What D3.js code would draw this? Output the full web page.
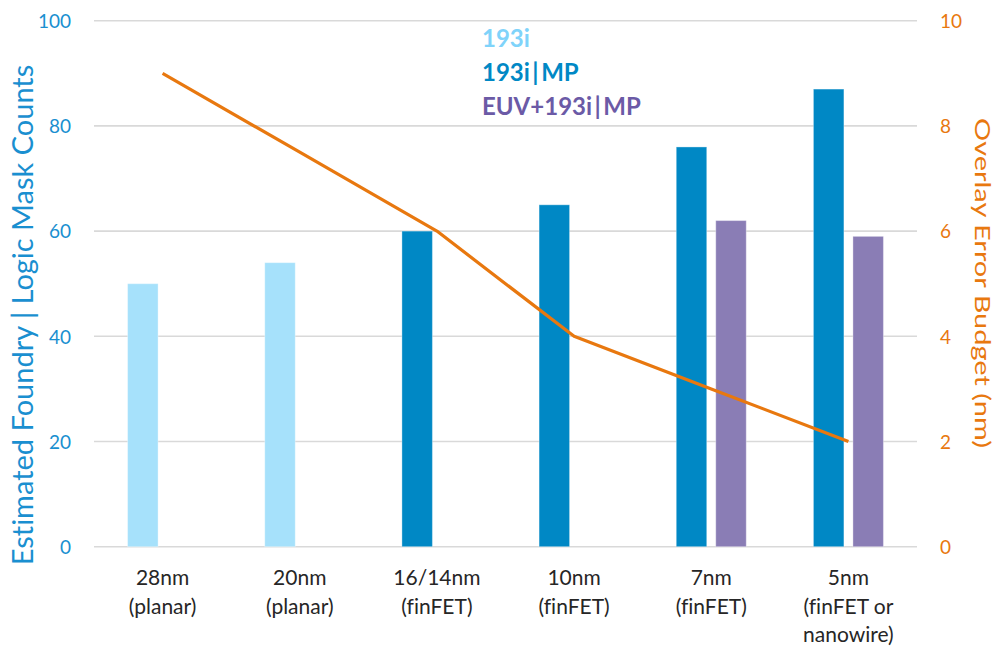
<!DOCTYPE html>
<html>
<head>
<meta charset="utf-8">
<script src="https://cdn.jsdelivr.net/npm/d3@7"></script>
<style>
  html, body { margin: 0; padding: 0; background: #ffffff; }
  svg { display: block; }
  text { font-family: Lato, "Open Sans", sans-serif; font-variant-ligatures: none; font-feature-settings: "liga" 0; }
</style>
</head>
<body>
<svg id="chart" width="999" height="646"></svg>
<script>
// Process nodes (multi-line labels)
const categories = [
  ["28nm", "(planar)"],
  ["20nm", "(planar)"],
  ["16/14nm", "(finFET)"],
  ["10nm", "(finFET)"],
  ["7nm", "(finFET)"],
  ["5nm", "(finFET or", "nanowire)"]
];
// Estimated foundry logic mask counts per lithography approach
const series193i    = [50, 54, null, null, null, null];
const series193iMP  = [null, null, 60, 65, 76, 87];
const seriesEUV     = [null, null, null, null, 62, 59];
// Overlay error budget (nm)
const overlayBudget = [9, 7.5, 6, 4, 3, 2];

const leftTicks  = [0, 20, 40, 60, 80, 100];
const rightTicks = [0, 2, 4, 6, 8, 10];

const seriesNames = ["193i", "193i|MP", "EUV+193i|MP"];
const seriesColors = ["#a6e1fb", "#0088c5", "#8a7db5"];
const legendColors = ["#7fd3fa", "#0088c5", "#6b5aa6"];
const textBlue = "#1a8fd0";
const orange = "#e8780f";

const svg = d3.select("#chart");
const plot = { left: 94, right: 917, top: 20.7, bottom: 546.7 };

const keys = categories.map(c => c.join(" "));
const x = d3.scaleBand().domain(keys).range([plot.left, plot.right]).padding(0);
const slot = d3.scaleBand().domain([0, 1]).range([-35, 35]).paddingInner(0.228).paddingOuter(0);
const yL = d3.scaleLinear().domain([0, 100]).range([plot.bottom, plot.top]);
const yR = d3.scaleLinear().domain([0, 10]).range([plot.bottom, plot.top]);

// Horizontal gridlines
svg.append("g")
  .selectAll("line")
  .data(leftTicks)
  .join("line")
  .attr("x1", plot.left).attr("x2", plot.right)
  .attr("y1", d => yL(d)).attr("y2", d => yL(d))
  .attr("stroke", "#d9d9d9").attr("stroke-width", 1.6);

// Left axis labels
const leftAxis = d3.axisLeft(yL).tickValues(leftTicks).tickSize(0).tickPadding(0);
const gL = svg.append("g").attr("transform", "translate(71,0)").call(leftAxis);
gL.select(".domain").remove();
gL.selectAll("text").attr("font-size", 19).attr("fill", textBlue)
  .attr("font-family", "Lato, sans-serif").attr("dy", "0.36em");

// Right axis labels
const rightAxis = d3.axisRight(yR).tickValues(rightTicks).tickSize(0).tickPadding(0);
const gR = svg.append("g").attr("transform", "translate(940,0)").call(rightAxis);
gR.select(".domain").remove();
gR.selectAll("text").attr("font-size", 19).attr("fill", orange)
  .attr("font-family", "Lato, sans-serif").attr("dy", "0.36em");

// Bars: 193i and 193i|MP share the first slot, EUV+193i|MP takes the second
const barData = [];
keys.forEach((k, i) => {
  if (series193i[i] != null) barData.push({ k, v: series193i[i], s: 0, c: seriesColors[0] });
  if (series193iMP[i] != null) barData.push({ k, v: series193iMP[i], s: 0, c: seriesColors[1] });
  if (seriesEUV[i] != null) barData.push({ k, v: seriesEUV[i], s: 1, c: seriesColors[2] });
});
svg.append("g")
  .selectAll("rect")
  .data(barData)
  .join("rect")
  .attr("x", d => x(d.k) + x.bandwidth() / 2 + slot(d.s))
  .attr("width", slot.bandwidth())
  .attr("y", d => yL(d.v))
  .attr("height", d => yL(0) - yL(d.v))
  .attr("fill", d => d.c)
  .attr("stroke", "rgba(255,255,255,0.35)")
  .attr("stroke-width", 1);

// Overlay budget line
const line = d3.line()
  .x((d, i) => x(keys[i]) + x.bandwidth() / 2)
  .y(d => yR(d));
svg.append("path")
  .datum(overlayBudget)
  .attr("d", line)
  .attr("fill", "none")
  .attr("stroke", orange)
  .attr("stroke-width", 3.2)
  .attr("stroke-linejoin", "round");

// Category labels
const catG = svg.append("g");
categories.forEach((lines, i) => {
  const cx = x(keys[i]) + x.bandwidth() / 2;
  const t = catG.append("text")
    .attr("x", cx)
    .attr("y", 585)
    .attr("text-anchor", "middle")
    .attr("font-size", 21)
    .attr("fill", "#262626");
  lines.forEach((ln, j) => {
    t.append("tspan")
      .attr("x", cx)
      .attr("y", 585 + j * 28.5)
      .text(ln);
  });
});

// Axis titles
svg.append("text")
  .attr("transform", "translate(33,315) rotate(-90)")
  .attr("text-anchor", "middle")
  .attr("font-size", 29)
  .attr("fill", textBlue)
  .text("Estimated Foundry  |  Logic Mask Counts");

svg.append("text")
  .attr("transform", "translate(975,283) rotate(90)")
  .attr("text-anchor", "middle")
  .attr("font-size", 22)
  .attr("textLength", 330)
  .attr("lengthAdjust", "spacingAndGlyphs")
  .attr("fill", orange)
  .text("Overlay Error Budget (nm)");

// Legend (the pipe gets a little breathing room on each side)
const legendBaselines = [47, 81, 115];
const legend = svg.append("g");
seriesNames.forEach((name, i) => {
  const t = legend.append("text")
    .attr("x", 482)
    .attr("y", legendBaselines[i])
    .attr("font-size", 24)
    .attr("font-weight", "bold")
    .attr("fill", legendColors[i]);
  const parts = name.split("|");
  parts.forEach((p, j) => {
    if (j > 0) t.append("tspan").attr("dx", 2.5).text("|");
    t.append("tspan").attr("dx", j > 0 ? 2.5 : 0).text(p);
  });
});
</script>
</body>
</html>
